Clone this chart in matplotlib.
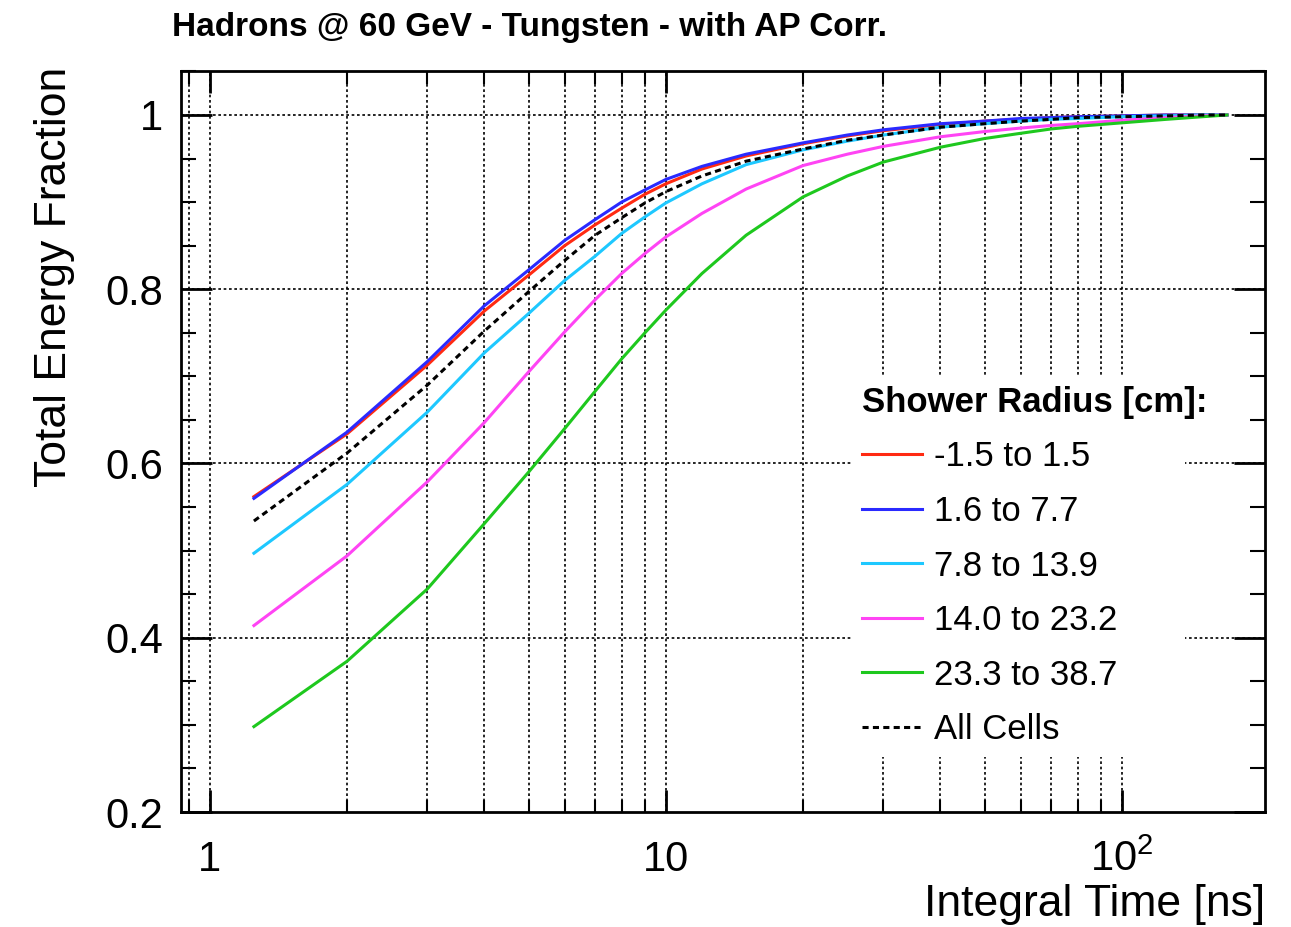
import matplotlib
matplotlib.use("Agg")
import matplotlib.pyplot as plt
from matplotlib.ticker import FixedLocator, FixedFormatter, NullFormatter
from matplotlib.patches import Rectangle
from matplotlib.transforms import IdentityTransform

plt.rcParams['font.family'] = ['Liberation Sans', 'DejaVu Sans']
plt.rcParams['mathtext.fontset'] = 'custom'
plt.rcParams['mathtext.rm'] = 'Liberation Sans'
plt.rcParams['mathtext.it'] = 'Liberation Sans:italic'

# integration time window [ns]
time_ns = [1.25, 2, 3, 4, 5, 6, 7, 8, 9, 10, 12, 15, 20, 25, 30, 40, 50,
           60, 70, 80, 100, 125, 150, 170]

frac_r0 = [0.562, 0.634, 0.713, 0.775, 0.816, 0.850, 0.874, 0.893, 0.909, 0.921,
           0.938, 0.953, 0.967, 0.976, 0.982, 0.989, 0.993, 0.995, 0.997, 0.998,
           0.999, 1.000, 1.000, 1.000]
frac_r1 = [0.560, 0.636, 0.717, 0.781, 0.822, 0.856, 0.880, 0.900, 0.914, 0.926,
           0.941, 0.955, 0.968, 0.977, 0.983, 0.990, 0.993, 0.996, 0.997, 0.998,
           0.999, 1.000, 1.000, 1.000]
frac_r2 = [0.497, 0.576, 0.659, 0.727, 0.772, 0.810, 0.838, 0.864, 0.883, 0.899,
           0.921, 0.943, 0.960, 0.970, 0.977, 0.986, 0.990, 0.993, 0.995, 0.996,
           0.998, 0.999, 1.000, 1.000]
frac_r3 = [0.414, 0.494, 0.579, 0.647, 0.705, 0.751, 0.788, 0.818, 0.841, 0.860,
           0.887, 0.915, 0.942, 0.955, 0.964, 0.975, 0.981, 0.985, 0.988, 0.990,
           0.994, 0.997, 0.999, 1.000]
frac_r4 = [0.298, 0.373, 0.456, 0.531, 0.590, 0.640, 0.683, 0.720, 0.750, 0.776,
           0.818, 0.862, 0.906, 0.930, 0.946, 0.963, 0.973, 0.979, 0.984, 0.987,
           0.991, 0.995, 0.998, 1.000]
frac_all = [0.534, 0.612, 0.690, 0.752, 0.797, 0.833, 0.862, 0.882, 0.899, 0.912,
            0.930, 0.947, 0.961, 0.971, 0.977, 0.986, 0.990, 0.993, 0.995, 0.997,
            0.998, 0.999, 1.000, 1.000]

radius_labels = ["-1.5 to 1.5", "1.6 to 7.7", "7.8 to 13.9",
                 "14.0 to 23.2", "23.3 to 38.7", "All Cells"]
colors = ["#ff2a12", "#2a2aff", "#1ec8ff", "#ff44f4", "#1ec81e", "black"]

x_major = [1, 10, 100]
x_major_labels = ["1", "10", r"$\mathregular{10^{2}}$"]
x_minor = [0.9, 2, 3, 4, 5, 6, 7, 8, 9, 20, 30, 40, 50, 60, 70, 80, 90]
y_major = [0.2, 0.4, 0.6, 0.8, 1.0]
y_major_labels = ["0.2", "0.4", "0.6", "0.8", "1"]
y_minor = [0.25, 0.3, 0.35, 0.45, 0.5, 0.55, 0.65, 0.7, 0.75, 0.85, 0.9, 0.95, 1.05]

W, H = 1291, 927
fig = plt.figure(figsize=(W / 100, H / 100), dpi=100)
ax = fig.add_axes([181 / W, 1 - 812 / H, 1084 / W, 741 / H])

ax.set_xscale("log")
ax.set_xlim(0.865, 206)
ax.set_ylim(0.2, 1.0505)

# grid on every x tick (major and minor), y grid on major ticks only
grid_kw = dict(color="black", lw=1.2, ls=(0, (1.6, 1.6)), zorder=1)
for xv in x_major + x_minor:
    ax.axvline(xv, **grid_kw)
for yv in y_major[1:]:
    ax.axhline(yv, **grid_kw)

# blank panel behind the legend (pixel coordinates)
ax.add_patch(Rectangle((852, H - 757), 333, 382, transform=IdentityTransform(),
                       facecolor="white", edgecolor="none", zorder=2))

series = [frac_r0, frac_r1, frac_r2, frac_r3, frac_r4, frac_all]
handles = []
for i, (vals, c, lab) in enumerate(zip(series, colors, radius_labels)):
    ls = (0, (2.0, 1.4)) if lab == "All Cells" else "-"
    h, = ax.plot(time_ns, vals, color=c, lw=2.2, ls=ls, label=lab, zorder=3 + i)
    handles.append(h)

ax.xaxis.set_major_locator(FixedLocator(x_major))
ax.xaxis.set_major_formatter(FixedFormatter(x_major_labels))
ax.xaxis.set_minor_locator(FixedLocator(x_minor))
ax.xaxis.set_minor_formatter(NullFormatter())
ax.yaxis.set_major_locator(FixedLocator(y_major))
ax.yaxis.set_major_formatter(FixedFormatter(y_major_labels))
ax.yaxis.set_minor_locator(FixedLocator(y_minor))

ax.tick_params(axis="both", which="both", direction="in", top=True, right=True,
               color="black", zorder=10)
ax.tick_params(axis="x", which="major", length=16, width=2, labelsize=30, pad=20)
ax.tick_params(axis="x", which="minor", length=9, width=1.5)
ax.tick_params(axis="y", which="major", length=22, width=2, labelsize=30, pad=13)
ax.tick_params(axis="y", which="minor", length=11, width=1.5)
for s in ax.spines.values():
    s.set_linewidth(2)
    s.set_zorder(10)

ax.set_xlabel("Integral Time [ns]", fontsize=32, ha="right")
ax.xaxis.set_label_coords(1.0, -0.097)
ax.set_ylabel("Total Energy Fraction", fontsize=32)
ax.yaxis.set_label_coords(-0.098, 0.722)

fig.text(172 / W, 1 - 36 / H, "Hadrons @ 60 GeV - Tungsten - with AP Corr.",
         fontsize=24, fontweight="bold", ha="left", va="baseline")

leg = ax.legend(handles=handles, labels=radius_labels, title="Shower Radius [cm]:",
                loc="upper left", bbox_to_anchor=(0.628, 0.575), frameon=False,
                fontsize=25, title_fontproperties={"size": 25, "weight": "bold"},
                alignment="left", borderpad=0, borderaxespad=0,
                handlelength=1.73, handletextpad=0.35, labelspacing=0.62)
leg.set_zorder(20)

fig.savefig("out.png", dpi=100)
